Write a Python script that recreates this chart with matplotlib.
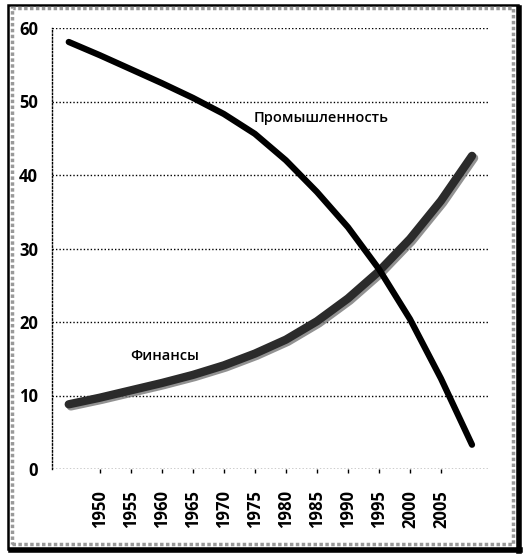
import numpy as np
import matplotlib

matplotlib.use('Agg')
import matplotlib.pyplot as plt
from matplotlib.patches import Rectangle
import matplotlib.patheffects as pe

plt.rcParams['font.family'] = ['Open Sans', 'DejaVu Sans']

# ================ data ======================
years = [1945, 1950, 1955, 1960, 1965, 1970, 1975,
         1980, 1985, 1990, 1995, 2000, 2005, 2010]
industry = [58.1, 56.3, 54.4, 52.5, 50.5, 48.3, 45.6,
            42.0, 37.7, 32.9, 27.2, 20.4, 12.3, 3.3]
finance = [8.8, 9.7, 10.7, 11.7, 12.8, 14.1, 15.7,
           17.6, 20.1, 23.2, 26.9, 31.3, 36.5, 42.6]
tick_years = [1950, 1955, 1960, 1965, 1970, 1975,
              1980, 1985, 1990, 1995, 2000, 2005]
y_ticks = [0, 10, 20, 30, 40, 50, 60]

W, H = 528, 560
fig = plt.figure(figsize=(W / 100, H / 100), dpi=100)
ax = fig.add_axes([52 / W, 1 - 469 / H, (490 - 52) / W, (469 - 28) / H])

# gridlines, dotted
for v in y_ticks:
    ax.axhline(v, color='black', lw=1.0, ls=(0, (1, 1.5)), zorder=1)
for s in ['top', 'right', 'bottom']:
    ax.spines[s].set_visible(False)
ax.spines['left'].set_linestyle((0, (1, 1.5)))
ax.spines['left'].set_linewidth(1.0)

ax.plot(years, finance, color='#2b2b2b', lw=6.0, solid_capstyle='round',
        solid_joinstyle='round', zorder=3,
        path_effects=[pe.SimpleLineShadow(offset=(1.5, -1.5), shadow_color='#777777', alpha=0.8),
                      pe.Normal()])
ax.plot(years, industry, color='black', lw=4.5, solid_capstyle='round',
        solid_joinstyle='round', zorder=4)

ax.text(1974.8, 47.7, 'Промышленность', fontsize=10.5, fontweight='semibold',
        ha='left', va='center')
ax.text(1954.9, 15.4, 'Финансы', fontsize=10.5, fontweight='semibold',
        ha='left', va='center')

ax.set_xlim(1942.3, 2012.9)
ax.set_ylim(0, 60)
ax.set_yticks(y_ticks)
ax.set_yticklabels([str(v) for v in y_ticks], fontsize=12, fontweight='bold')
ax.tick_params(axis='y', length=0, pad=10)
ax.set_xticks(tick_years)
ax.set_xticklabels([str(v) for v in tick_years], rotation=90, fontsize=12,
                   fontweight='bold')
ax.tick_params(axis='x', length=3, width=1, pad=12)

# outer frame with shadow
fig.patches.append(Rectangle((8 / W, 1 - 549 / H), 510 / W, 544 / H,
                             transform=fig.transFigure, fill=False,
                             edgecolor='black', lw=1.8))
fig.lines.append(plt.Line2D([519 / W, 519 / W], [1 - 551 / H, 1 - 8 / H],
                            transform=fig.transFigure, color='black', lw=4))
fig.lines.append(plt.Line2D([11 / W, 520 / W], [1 - 550 / H, 1 - 550 / H],
                            transform=fig.transFigure, color='black', lw=4))
fig.patches.append(Rectangle((12 / W, 1 - 544 / H), 501 / W, 536 / H,
                             transform=fig.transFigure, fill=False,
                             edgecolor='#999999', lw=2.5, ls=(0, (1, 0.7))))

fig.savefig('out.png', dpi=100)
